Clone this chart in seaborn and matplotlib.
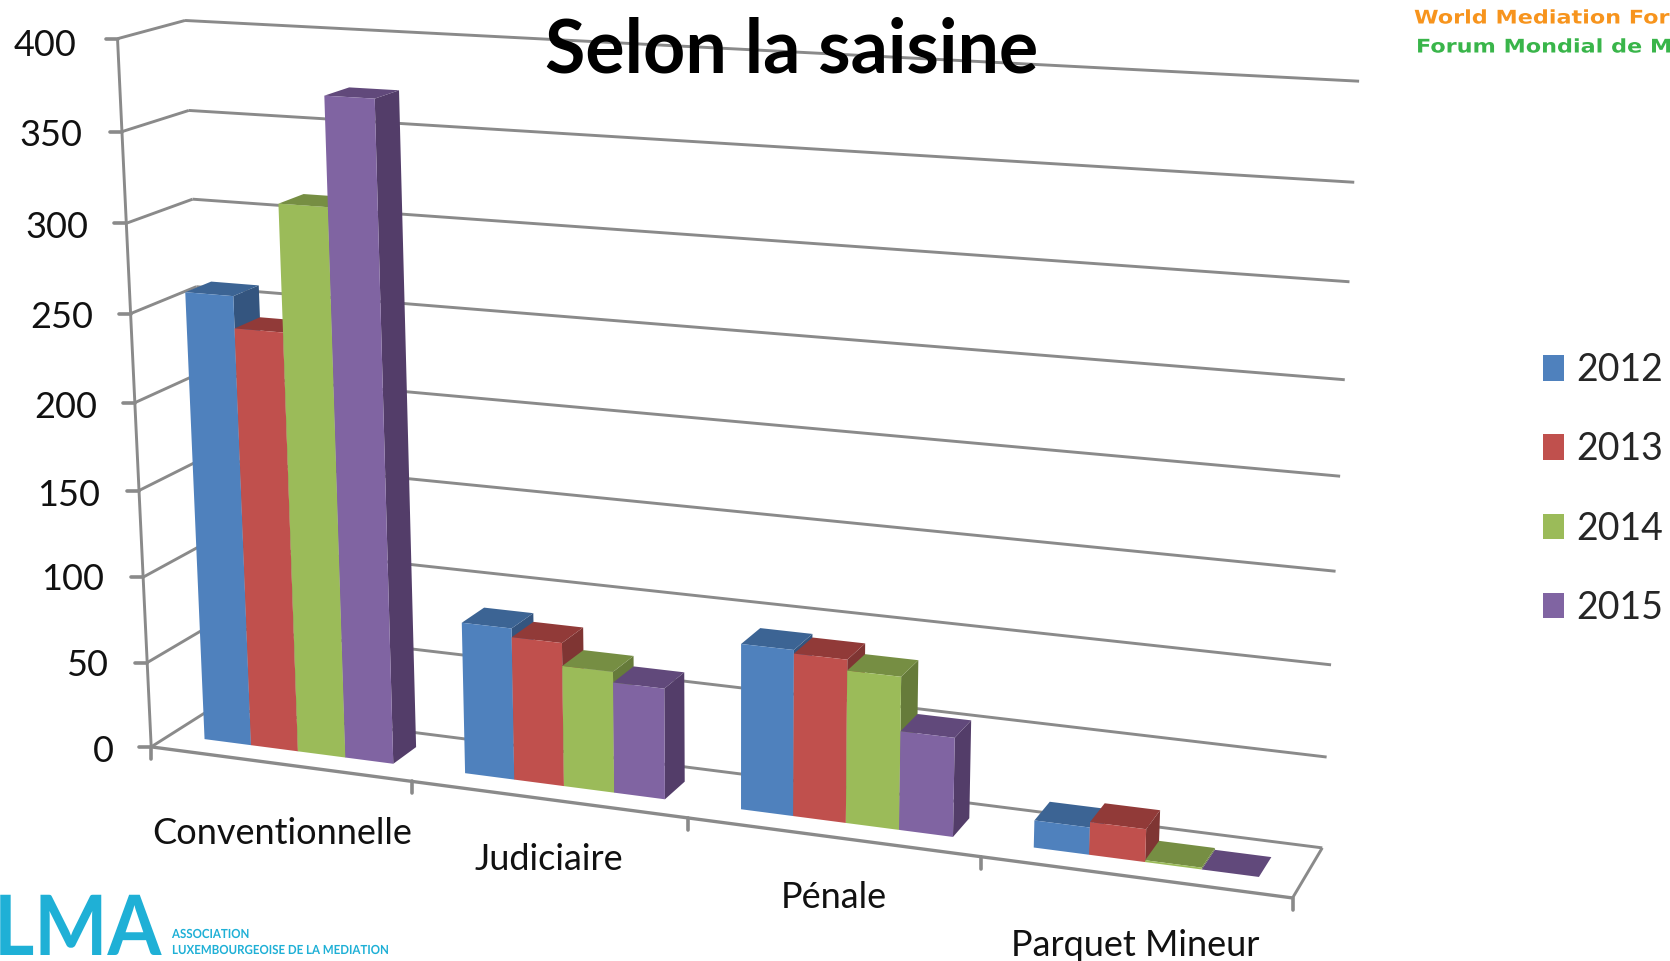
"""
plot.py
Selon la saisine: 3D look clustered bars. Seaborn builds the bars, a fitted
camera matrix takes them from data space to picture pixels.
"""

import numpy as np
import pandas as pd
import matplotlib

matplotlib.use("Agg")
import matplotlib.pyplot as plt
import matplotlib.patheffects as pe
from matplotlib.patches import Polygon
from matplotlib.transforms import Affine2D, Transform
import seaborn as sns

W, H = 1670, 961

CATEGORIES = ["Conventionnelle", "Judiciaire", "Pénale", "Parquet Mineur"]
YEARS = ["2012", "2013", "2014", "2015"]
VALUES_2012 = [259, 87, 93, 15]
VALUES_2013 = [241, 82, 91, 18]
VALUES_2014 = [312, 69, 85, 1]
VALUES_2015 = [372, 63, 55, 0]
Y_TICKS = [0, 50, 100, 150, 200, 250, 300, 350, 400]

FRONT_COLORS = ["#4F81BD", "#C0504D", "#9BBB59", "#8064A2"]
TOP_COLORS = ["#3C6494", "#913A38", "#768E43", "#61497B"]
SIDE_COLORS = ["#34557F", "#7F3533", "#667B3A", "#533D69"]
GRID_COLOR = "#8A8A8A"

# picture positions of chart corners, used to fit the camera: (x, y, z) -> (px, py)
CALIBRATION = [
    (-0.5, 400, 0, 118, 38), (-0.5, 350, 0, 122, 132), (-0.5, 300, 0, 127, 223),
    (-0.5, 250, 0, 130, 313), (-0.5, 200, 0, 134, 400), (-0.5, 150, 0, 139, 493),
    (-0.5, 100, 0, 143, 578), (-0.5, 50, 0, 148, 663), (-0.5, 0, 0, 152, 747),
    (-0.5, 400, 1, 185, 21), (-0.5, 350, 1, 189, 111), (-0.5, 300, 1, 192, 199),
    (-0.5, 250, 1, 196, 286),
    (3.5, 400, 1, 1360, 82), (3.5, 350, 1, 1355, 183), (3.5, 300, 1, 1349, 282),
    (3.5, 250, 1, 1344, 378), (3.5, 200, 1, 1340, 476), (3.5, 150, 1, 1334, 572),
    (3.5, 100, 1, 1331, 665), (3.5, 50, 1, 1328, 757), (3.5, 0, 1, 1323, 847),
    (0.5, 0, 0, 412, 781), (1.5, 0, 0, 687, 818), (2.5, 0, 0, 980, 857),
    (3.5, 0, 0, 1293, 898),
]
Z_FRONT, Z_BACK = 0.3, 0.7


def fit_camera(points):
    rows = []
    for x, y, z, px, py in points:
        w = [x, y / 100, z, 1]
        rows.append(w + [0, 0, 0, 0] + [-px / 1000 * v for v in w])
        rows.append([0, 0, 0, 0] + w + [-py / 1000 * v for v in w])
    return np.linalg.svd(np.array(rows))[2][-1].reshape(3, 4)


CAMERA = fit_camera(CALIBRATION)


def project(x, y, z):
    x, y = np.asarray(x, float), np.asarray(y, float)
    w = np.stack([x, y / 100, np.full_like(x, z) if np.isscalar(z) else z, np.ones_like(x)])
    u, v, s = CAMERA @ w
    return np.column_stack([u / s * 1000, v / s * 1000])


class PlaneProjection(Transform):
    """Bar plane at a fixed depth, (x, value) to picture pixels."""

    input_dims = 2
    output_dims = 2

    def __init__(self, z):
        super().__init__()
        self.z = z

    def transform_non_affine(self, values):
        values = np.asarray(values)
        return project(values[:, 0], values[:, 1], self.z)


class WidthScale(pe.AbstractPathEffect):
    """Scales glyphs sideways, none of the installed faces has the right width."""

    def __init__(self, sx, dx=0, dy=0):
        super().__init__()
        self.sx = sx
        self.dx = dx
        self.dy = dy

    def draw_path(self, renderer, gc, tpath, affine, rgbFace=None):
        scaled = Affine2D().scale(self.sx, 1) + affine + Affine2D().translate(self.dx, self.dy)
        renderer.draw_path(gc, tpath, scaled, rgbFace)


def line3d(ax, pix, a, b, lw=2.1):
    pts = project([a[0], b[0]], [a[1], b[1]], np.array([a[2], b[2]], float))
    ax.plot(pts[:, 0], pts[:, 1], color=GRID_COLOR, lw=lw, transform=pix,
            clip_on=False, zorder=1, solid_capstyle="butt")


def draw_frame(ax, pix):
    for tick in Y_TICKS:
        line3d(ax, pix, (-0.5, tick, 0), (-0.5, tick, 1))
        line3d(ax, pix, (-0.5, tick, 1), (3.5, tick, 1))
        px, py = project([-0.5], [tick], 0)[0]
        ax.plot([px - 12, px], [py, py], color=GRID_COLOR, lw=2.6, transform=pix,
                clip_on=False, zorder=1)
    line3d(ax, pix, (-0.5, 0, 0), (-0.5, 400, 0))
    line3d(ax, pix, (-0.5, 0, 0), (3.5, 0, 0), lw=2.4)
    line3d(ax, pix, (3.5, 0, 0), (3.5, 0, 1))
    for x in [-0.5, 0.5, 1.5, 2.5, 3.5]:
        px, py = project([x], [0], 0)[0]
        ax.plot([px, px], [py, py + 12], color=GRID_COLOR, lw=2.6, transform=pix,
                clip_on=False, zorder=1)


def draw_bars_3d(ax, pix):
    front = PlaneProjection(Z_FRONT) + pix
    for h, container in enumerate(ax.containers):
        for c, bar in enumerate(container):
            x0, x1, v = bar.get_x(), bar.get_x() + bar.get_width(), bar.get_height()
            order = 3 + c * 10 + h
            side = project([x1, x1, x1, x1], [0, v, v, 0],
                           np.array([Z_FRONT, Z_FRONT, Z_BACK, Z_BACK]))
            top = project([x0, x1, x1, x0], [v, v, v, v],
                          np.array([Z_FRONT, Z_FRONT, Z_BACK, Z_BACK]))
            ax.add_patch(Polygon(side, closed=True, fc=SIDE_COLORS[h], ec="none",
                                 transform=pix, clip_on=False, zorder=order))
            ax.add_patch(Polygon(top, closed=True, fc=TOP_COLORS[h], ec="none",
                                 transform=pix, clip_on=False, zorder=order + 0.1))
            bar.set_transform(front)
            bar.set_clip_on(False)
            bar.set_zorder(order + 0.2)


def main():
    sns.set_theme(style="white")
    plt.rcParams["font.family"] = ["Lato", "DejaVu Sans"]

    df = pd.DataFrame(
        {
            "saisine": CATEGORIES,
            "2012": VALUES_2012,
            "2013": VALUES_2013,
            "2014": VALUES_2014,
            "2015": VALUES_2015,
        }
    ).melt(id_vars="saisine", var_name="year", value_name="count")

    fig = plt.figure(figsize=(W / 100, H / 100), dpi=100, facecolor="white")
    ax = fig.add_axes([0, 0, 1, 1])
    sns.barplot(
        data=df, x="saisine", y="count", hue="year", order=CATEGORIES, hue_order=YEARS,
        palette=FRONT_COLORS, saturation=1, width=0.73, linewidth=0, ax=ax,
    )
    ax.set_axis_off()

    # picture pixels, y going down
    pix = Affine2D().scale(1, -1).translate(0, H)

    draw_frame(ax, pix)
    draw_bars_3d(ax, pix)

    sns.move_legend(
        ax, "center left", bbox_to_anchor=(1542.5, 489), bbox_transform=pix, frameon=False,
        title=None, fontsize=27, labelspacing=1.15, handlelength=0.58, handleheight=0.68,
        handletextpad=0.33, borderpad=0, borderaxespad=0,
    )

    y_label_pos = [(103, 751), (87, 665), (73, 580), (69, 495), (66, 408),
                   (62, 317), (57, 227), (51, 136), (45, 45)]
    for tick, (px, py) in zip(Y_TICKS, y_label_pos):
        ax.text(px, py, str(tick), transform=pix, fontsize=26, color="#111111",
                ha="center", va="center")

    x_label_pos = [(282, 834), (549, 860), (834, 897), (1135, 946)]
    for name, (px, py) in zip(CATEGORIES, x_label_pos):
        ax.text(px, py, name, transform=pix, fontsize=26, color="#111111",
                ha="center", va="center")

    ax.text(792, 51, "Selon la saisine", transform=pix, fontsize=53, fontweight="bold",
            color="black", ha="center", va="center", zorder=50)

    # the reference crops these two lines at its right edge
    ax.text(1414, 18, "World Mediation For", transform=pix, fontsize=13.5, color="#F7941D",
            fontweight="bold", family=["DejaVu Sans"], va="center",
            path_effects=[WidthScale(1.19)])
    ax.text(1416, 47, "Forum Mondial de M", transform=pix, fontsize=13.5, color="#39B54A",
            fontweight="bold", family=["DejaVu Sans"], va="center",
            path_effects=[WidthScale(1.19)])

    ax.text(0, 942, "LMA", transform=pix, fontsize=60, color="#1FB0D6", fontweight="bold",
            va="baseline", path_effects=[WidthScale(0.93, dx=-6, dy=-13)])
    ax.text(172, 934, "ASSOCIATION", transform=pix, fontsize=9, color="#1FB0D6", fontweight="bold",
            va="center", path_effects=[WidthScale(0.92)])
    ax.text(172, 950, "LUXEMBOURGEOISE DE LA MEDIATION", transform=pix, fontsize=9, color="#1FB0D6",
            fontweight="bold", va="center", path_effects=[WidthScale(0.92)])

    fig.savefig("out.png", dpi=100, facecolor="white")


if __name__ == "__main__":
    main()
